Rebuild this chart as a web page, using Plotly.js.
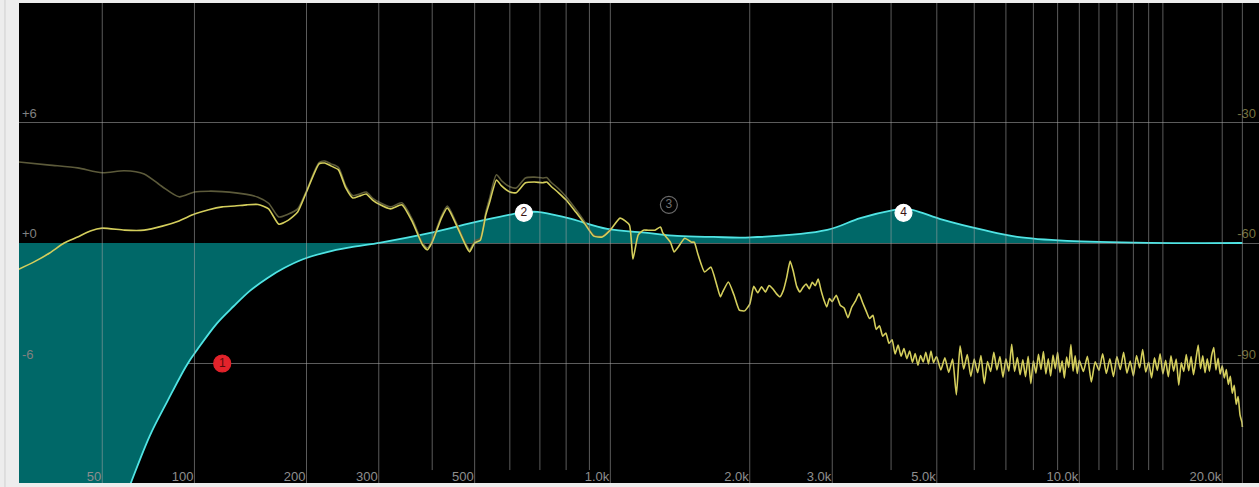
<!DOCTYPE html>
<html><head><meta charset="utf-8">
<script src="https://cdn.plot.ly/plotly-3.0.1.min.js"></script>
<style>html,body{margin:0;padding:0;background:#ededed;overflow:hidden}#chart{width:1259px;height:487px}</style>
</head><body><div id="chart"></div>
<script>
// ---- EQ response (dB, left scale) ----
const eqFreq = [20,40,55,63,73,83,95,102,116,129,143,159,175,196,225,256,303,396,515,633,691,805,985,1204,1397,1670,2006,2927,3441,4042,4245,4457,5159,6268,7394,9426,14100,22050];
const eqGain = [-40,-22,-14.2,-12,-9.6,-7.87,-6.07,-5.3,-4.0,-3.15,-2.37,-1.74,-1.26,-0.81,-0.45,-0.22,0.02,0.5,1.1,1.5,1.55,1.25,0.7,0.5,0.35,0.3,0.28,0.65,1.24,1.64,1.7,1.64,1.15,0.65,0.31,0.11,0.01,0.0];

// ---- band handles ----
const bandFreq = [120, 645, 1340, 4250];
const bandGain = [-6, 1.5, 1.9, 1.5];
const bandLabel = ['1', '2', '3', '4'];

// ---- spectrum analyser (dB, right scale) ----
const specFreqLow = [20,25,30,35,40,45,50,60,70,80,90,100,110,120,130,140,150,160,170,180,190,200,215,222,230,240,250,260,270,280,290,300,320,340,360,380,390,400,420,433,440,460,480,487,500,515,530,540,560,575,600,620,650,680,710,725,740,770,800,840,880,920,960,1000,1050,1100,1120,1150,1180,1200,1250,1285,1300,1350,1375,1400,1450,1500,1520,1550,1600,1650,1700,1730,1750,1800,1850,1900,1950];
const specLevelLow = [-66.7,-64.7,-62.5,-60.0,-58.5,-57.0,-56.3,-56.8,-56.8,-55.8,-54.5,-52.8,-51.7,-51.0,-50.8,-50.5,-50.4,-51.5,-55.3,-54.3,-52.3,-47.3,-40.3,-40.1,-40.8,-41.8,-46.3,-48.8,-48.3,-47.8,-49.3,-50.3,-51.5,-50.5,-54.8,-60.5,-61.7,-59.8,-53.8,-51.3,-52.3,-56.8,-61.2,-62.2,-60.0,-59.3,-53.0,-50.0,-44.3,-45.8,-47.3,-47.5,-45.0,-44.8,-45.0,-44.8,-45.8,-47.5,-49.3,-52.3,-55.3,-58.3,-58.5,-56.8,-53.8,-55.5,-64.0,-58.0,-56.8,-56.8,-56.8,-56.0,-57.5,-59.8,-62.2,-61.2,-58.8,-59.8,-59.8,-63.0,-67.2,-66.0,-70.5,-73.4,-72.2,-69.7,-72.9,-76.7,-76.9];

const specFreqMid = [2000,2040,2080,2120,2160,2200,2240,2280,2320,2360,2400,2440,2480,2520,2560,2600,2640,2680,2720,2760,2800,2840,2880,2920,2960,3000,
  3060,3120,3180,3240,3300,3360,3420,3480,3540,3600,3660,3720,3780,3840,3900,3960,4020,4080,4140,4200,4260,4320,4380,4440,4500,4560,4620,4680,4740,4800,4860,4920,4980];
const specLevelMid = [-75.2,-70.8,-72.4,-70.9,-72.2,-70.6,-71.4,-72.6,-73.4,-71.8,-68.5,-64.5,-67.2,-70.8,-72.2,-71.0,-70.2,-71.4,-69.8,-70.6,-69.0,-71.8,-74.2,-75.9,-73.8,-74.6,
  -73.0,-75.5,-76.2,-78.6,-76.0,-74.5,-72.6,-74.8,-76.9,-78.8,-78.0,-81.5,-80.6,-83.2,-82.4,-85.0,-84.1,-87.6,-85.4,-88.2,-86.3,-88.8,-86.9,-89.7,-87.5,-90.4,-88.0,-89.6,-87.2,-90.1,-86.9,-89.8,-88.4];

const specFreqHigh = [5000,5100,5200,5300,5400,5500,5600,5700,5800,5900,
  6000,6100,6200,6300,6400,6500,6600,6700,6800,6900,
  7000,7100,7200,7300,7400,7500,7600,7700,7800,7900,
  8000,8100,8200,8300,8400,8500,8600,8700,8800,8900,
  9000,9100,9200,9300,9400,9500,9600,9700,9800,9900,
  10000,10200,10400,10600,10800,11000,11200,11400,11600,11800,
  12000,12200,12400,12600,12800,13000,13200,13400,13600,13800,
  14000,14200,14400,14600,14800,15000,15200,15400,15600,15800,
  16000,16200,16400,16600,16800,17000,17200,17400,17600,17800,
  18000,18200,18400,18600,18800,19000,19200,19400,19600,19800,
  20000,20200,20400,20600,20800,21000,21200,21400,21600,21800,22000,22050];
const specLevelHigh = [-88.4,-91.6,-88.6,-92.2,-88.9,-97.8,-85.6,-91.4,-87.8,-93.2,
  -88.9,-92.3,-88.0,-95.0,-89.5,-92.0,-87.2,-91.6,-88.3,-93.4,
  -88.8,-91.9,-85.2,-92.0,-88.5,-92.8,-89.1,-93.3,-88.2,-95.0,
  -89.3,-92.4,-87.7,-91.5,-87.0,-92.6,-88.8,-93.1,-87.9,-91.3,
  -87.2,-92.2,-89.3,-93.6,-88.4,-91.0,-85.3,-91.9,-88.1,-92.5,
  -89.2,-92.0,-88.2,-94.6,-89.6,-91.7,-87.6,-92.5,-88.8,-93.3,
  -88.3,-91.5,-87.2,-92.4,-89.4,-93.1,-88.0,-91.1,-86.5,-92.1,
  -89.7,-93.6,-88.6,-91.7,-87.6,-92.6,-89.2,-93.3,-88.1,-91.9,
  -88.9,-95.4,-89.8,-92.0,-87.8,-91.8,-88.3,-92.8,-89.1,-85.4,
  -91.3,-88.1,-92.3,-88.8,-91.9,-88.0,-86.0,-91.6,-88.7,-92.6,
  -90.6,-93.6,-91.5,-95.2,-93.2,-97.4,-95.4,-100.2,-98.2,-102.8,-104.6,-105.8];

// second (dim) analyser trace
const holdFreq = [20,30,40,50,60,70,80,90,100,110,120,140,150,160,170,180,190,200,215,222,230,240,250,260,270,280,290,300,320,340,360,380,390,400,420,433,440,460,480,487,500,515,530,540,560,575,600,620,650,680,710,725,740,770,800,840,880,920,960,1000];
const holdLevel = [-39.8,-40.6,-41.3,-42.5,-42.0,-42.8,-46.0,-48.5,-47.3,-47.1,-47.2,-47.9,-48.6,-50.1,-53.5,-52.8,-51.5,-47.0,-40.0,-39.6,-40.3,-41.2,-45.8,-48.2,-47.8,-47.3,-48.8,-49.8,-51.0,-50.0,-54.2,-60.0,-61.2,-59.3,-53.3,-50.8,-51.8,-56.3,-60.7,-61.7,-59.5,-58.8,-52.3,-49.0,-43.0,-44.5,-46.0,-46.3,-43.8,-43.6,-43.8,-43.7,-44.8,-46.5,-48.5,-51.6,-54.8,-58.0,-58.3,-56.6];

// ---- axes ----
const majorFreq = [50,100,200,300,500,1000,2000,3000,5000,10000,20000];
const majorLabel = ['50','100','200','300','500','1.0k','2.0k','3.0k','5.0k','10.0k','20.0k'];
const minorFreq = [400,600,700,800,900,4000,6000,7000,8000,9000,11000,12000,13000,14000,15000];
const nyquistFreq = [22050];
const gainTicks = [-6, 0, 6];
const gainLabels = ['-6', '+0', '+6'];
const levelTicks = [-90, -60, -30];
const levelLabels = ['-90', '-60', '-30'];

// analyser frequency scale: logarithmic, compressed at the low end
const warp = f => Math.log2(f + 39);
const W = arr => arr.map(warp);

const specFreq = specFreqLow.concat(specFreqMid, specFreqHigh);
const specLevel = specLevelLow.concat(specLevelMid, specLevelHigh);

const font = 'Liberation Sans, Arial, sans-serif';

const traces = [
  { x: W(eqFreq), y: eqGain, type: 'scatter', mode: 'lines', fill: 'tozeroy',
    fillcolor: 'rgb(0,104,104)', line: { color: 'rgb(80,228,228)', width: 1.8, shape: 'spline', smoothing: 1.0 },
    xaxis: 'x', yaxis: 'y', hoverinfo: 'skip' },
  { x: W(holdFreq), y: holdLevel, type: 'scatter', mode: 'lines',
    line: { color: 'rgb(92,90,58)', width: 1.6, shape: 'spline', smoothing: 0.7 },
    xaxis: 'x', yaxis: 'y2', hoverinfo: 'skip' },
  { x: W(specFreq), y: specLevel, type: 'scatter', mode: 'lines',
    line: { color: 'rgb(212,206,92)', width: 1.6, shape: 'spline', smoothing: 0.5 },
    xaxis: 'x', yaxis: 'y2', hoverinfo: 'skip' },
  { x: W(bandFreq), y: bandGain, type: 'scatter', mode: 'markers+text',
    text: bandLabel, textposition: 'middle center',
    textfont: { family: font, size: 12, color: ['#5a0a0a', '#3a1414', '#707070', '#3a1414'] },
    marker: { size: 17, color: ['#e3232b', '#ffffff', 'rgba(0,0,0,0)', '#ffffff'],
      line: { color: ['#e3232b', '#ffffff', '#6a6a6a', '#ffffff'], width: 1.2 } },
    xaxis: 'x', yaxis: 'y', hoverinfo: 'skip' }
];

const gridShapes = majorFreq.concat(nyquistFreq).map(f => ({
  type: 'line', xref: 'x', yref: 'paper', x0: warp(f), x1: warp(f), y0: 0, y1: 1,
  layer: 'above', line: { color: 'rgba(165,165,165,0.55)', width: 1 }
})).concat(minorFreq.map(f => ({
  type: 'line', xref: 'x', yref: 'paper', x0: warp(f), x1: warp(f), y0: 0.027, y1: 1,
  layer: 'above', line: { color: 'rgba(165,165,165,0.55)', width: 1 }
})));
gridShapes.push({ type: 'line', xref: 'paper', yref: 'paper', x0: -0.0113, x1: -0.0113, y0: -0.02, y1: 1.02,
  layer: 'below', line: { color: '#cfcfcf', width: 1 } });

const layout = {
  width: 1259, height: 487,
  margin: { l: 19, r: 0, t: 3, b: 4, pad: 0 },
  paper_bgcolor: '#ededed', plot_bgcolor: '#000000',
  showlegend: false,
  font: { family: font },
  xaxis: {
    range: [warp(20.5), warp(23900)], tickvals: W(majorFreq), ticktext: majorLabel,
    ticks: '', showgrid: false, zeroline: false, showline: false,
    ticklabelposition: 'inside left', ticklabeloverflow: 'allow',
    ticklabelstandoff: -7, ticklabelshift: -1,
    tickfont: { family: font, size: 13, color: '#8e8e8e' }, fixedrange: true
  },
  yaxis: {
    range: [-11.95, 11.95], tickvals: gainTicks, ticktext: gainLabels,
    ticks: '', showgrid: true, gridcolor: '#5c5c5c', gridwidth: 1, zeroline: false, showline: false,
    ticklabelposition: 'inside top', ticklabeloverflow: 'allow',
    tickfont: { family: font, size: 13, color: '#808080' }, fixedrange: true
  },
  yaxis2: {
    overlaying: 'y', side: 'right',
    range: [-119.75, -0.25], tickvals: levelTicks, ticktext: levelLabels,
    ticks: '', showgrid: false, zeroline: false, showline: false,
    ticklabelposition: 'inside top', ticklabeloverflow: 'allow',
    tickfont: { family: font, size: 13, color: '#77723f' }, fixedrange: true
  },
  shapes: gridShapes
};

Plotly.newPlot('chart', traces, layout, { displayModeBar: false, staticPlot: true });
</script>
</body></html>
